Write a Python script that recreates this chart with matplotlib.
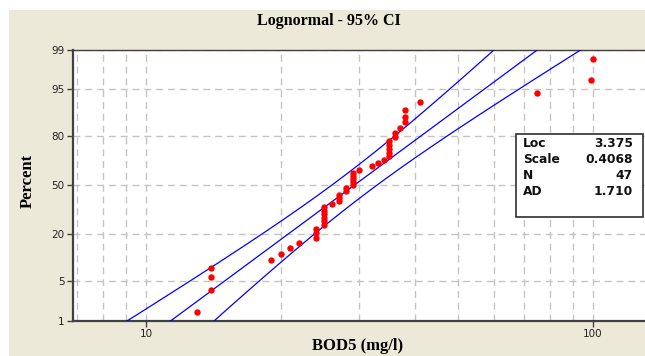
import numpy as np
import matplotlib
matplotlib.use("Agg")
import matplotlib.pyplot as plt
from matplotlib.patches import Rectangle
from statistics import NormalDist

# Colours (XP style Minitab window)
COLOR_PANEL = "#ECE9D8"
COLOR_GRID = "#C4C4C4"
COLOR_SPINE = "#404040"
COLOR_FIT = "#0000FF"
COLOR_PTS = "#FF0000"

# BOD5 samples, sorted (mg/l)
bod5 = [13, 14, 14, 14, 19, 20, 21, 22, 24, 24, 24,
        25, 25, 25, 25, 25, 25, 26, 27, 27, 27, 28, 28,
        29, 29, 29, 29, 29, 30, 32, 33, 34,
        35, 35, 35, 35, 35, 36, 36, 37, 38, 38, 38, 41, 75, 99, 100]
# plotted percent for each sample
percent = [1.5, 3.6, 5.7, 7.8, 9.9, 12.0, 14.1, 16.2, 18.4, 20.5, 22.6,
           24.7, 26.8, 28.9, 31.0, 33.1, 35.2, 37.3, 39.5, 41.6, 43.7, 45.8, 47.9,
           50.0, 52.1, 54.2, 56.3, 58.4, 60.5, 62.7, 64.8, 66.9,
           69.0, 71.1, 73.2, 75.3, 77.4, 79.5, 81.6, 83.8, 85.9, 88.0, 90.1, 92.2, 94.3, 96.4, 98.5]

# fit summary
loc = 3.375
scale = 0.4068
n_obs = 47
ad = 1.710

y_ticks = [1, 5, 20, 50, 80, 95, 99]
x_major = [10, 100]
x_minor = [7, 8, 9, 20, 30, 40, 50, 60, 70, 80, 90]

nd = NormalDist()
_ppf = np.vectorize(nd.inv_cdf, otypes=[float])
_cdf = np.vectorize(nd.cdf, otypes=[float])


def to_z(p):
    p = np.clip(np.asarray(p, dtype=float), 1e-9, 100 - 1e-9)
    return _ppf(p / 100.0)


def from_z(z):
    return _cdf(np.asarray(z, dtype=float)) * 100.0


# fitted line and 95% CI for percentiles
p_line = np.linspace(0.3, 99.7, 300)
z_line = to_z(p_line)
se = scale * np.sqrt(1.0 / n_obs + z_line ** 2 / (2.0 * n_obs))
x_mid = np.exp(loc + scale * z_line)
x_lo = np.exp(loc + scale * z_line - 1.96 * se)
x_hi = np.exp(loc + scale * z_line + 1.96 * se)

W, H = 645, 356
fig = plt.figure(figsize=(W / 100, H / 100), dpi=100)
fig.patch.set_facecolor("white")
fig.add_artist(Rectangle((9 / W, 0), 1 - 9 / W, 1 - 10 / H, transform=fig.transFigure,
                         facecolor=COLOR_PANEL, edgecolor="none", zorder=0))

ax = fig.add_axes([72.7 / W, 1 - 321 / H, 1 - 72.7 / W, (321 - 49.5) / H])
ax.set_facecolor("white")
ax.set_xscale("log")
ax.set_yscale("function", functions=(to_z, from_z))
ax.set_xlim(6.855, 130.7)
ax.set_ylim(1, 99)

ax.plot(x_mid, p_line, color=COLOR_FIT, lw=0.9, zorder=3)
ax.plot(x_lo, p_line, color=COLOR_FIT, lw=0.9, zorder=3)
ax.plot(x_hi, p_line, color=COLOR_FIT, lw=0.9, zorder=3)
ax.plot(bod5, percent, "o", color=COLOR_PTS, ms=4.6, mec="none", zorder=4)

ax.set_yticks(y_ticks)
ax.set_yticklabels([str(v) for v in y_ticks])
ax.yaxis.set_minor_locator(matplotlib.ticker.NullLocator())
ax.set_xticks(x_major)
ax.set_xticklabels([str(v) for v in x_major])
ax.set_xticks(x_minor, minor=True)
ax.xaxis.set_minor_formatter(matplotlib.ticker.NullFormatter())

ax.grid(True, which="both", axis="x", color=COLOR_GRID, ls=(0, (5, 3.5)), lw=1)
ax.grid(True, which="major", axis="y", color=COLOR_GRID, ls=(0, (5, 3.5)), lw=1)
ax.set_axisbelow(True)

ax.tick_params(axis="both", which="major", length=4, width=1, color=COLOR_SPINE,
               labelsize=7.5, labelcolor="#222222", pad=2)
ax.tick_params(axis="x", which="minor", length=0)
for s in ["left", "bottom"]:
    ax.spines[s].set_color(COLOR_SPINE)
    ax.spines[s].set_linewidth(1.6)
ax.spines["top"].set_color(COLOR_SPINE)
ax.spines["top"].set_linewidth(1.0)
ax.spines["right"].set_visible(False)

serif = ["Liberation Serif", "DejaVu Serif"]
fig.text(329 / W, 1 - 21 / H, "Lognormal - 95% CI", ha="center", va="center",
         fontsize=11.5, fontweight="bold", family=serif)
fig.text(28 / W, 1 - 181 / H, "Percent", ha="center", va="center", rotation=90,
         fontsize=12, fontweight="bold", family=serif)
fig.text(358 / W, 1 - 350.5 / H, "BOD5 (mg/l)", ha="center", va="baseline",
         fontsize=12, fontweight="bold", family=serif)

# stats box
fig.add_artist(Rectangle((516 / W, 1 - 217 / H), 127 / W, 83 / H, transform=fig.transFigure,
                         facecolor="white", edgecolor="#303030", lw=1.2, zorder=5))
rows = [("Loc", f"{loc:.3f}"), ("Scale", f"{scale:.4f}"), ("N", f"{n_obs}"), ("AD", f"{ad:.3f}")]
row_y = [143.5, 159.5, 175.5, 191.5]
for (lab, val), yy in zip(rows, row_y):
    fig.text(523 / W, 1 - yy / H, lab, ha="left", va="center", fontsize=8.8,
             fontweight="bold", color="#111111", zorder=6)
    fig.text(633 / W, 1 - yy / H, val, ha="right", va="center", fontsize=8.8,
             fontweight="bold", color="#111111", zorder=6)

fig.savefig("out.png", dpi=100)
